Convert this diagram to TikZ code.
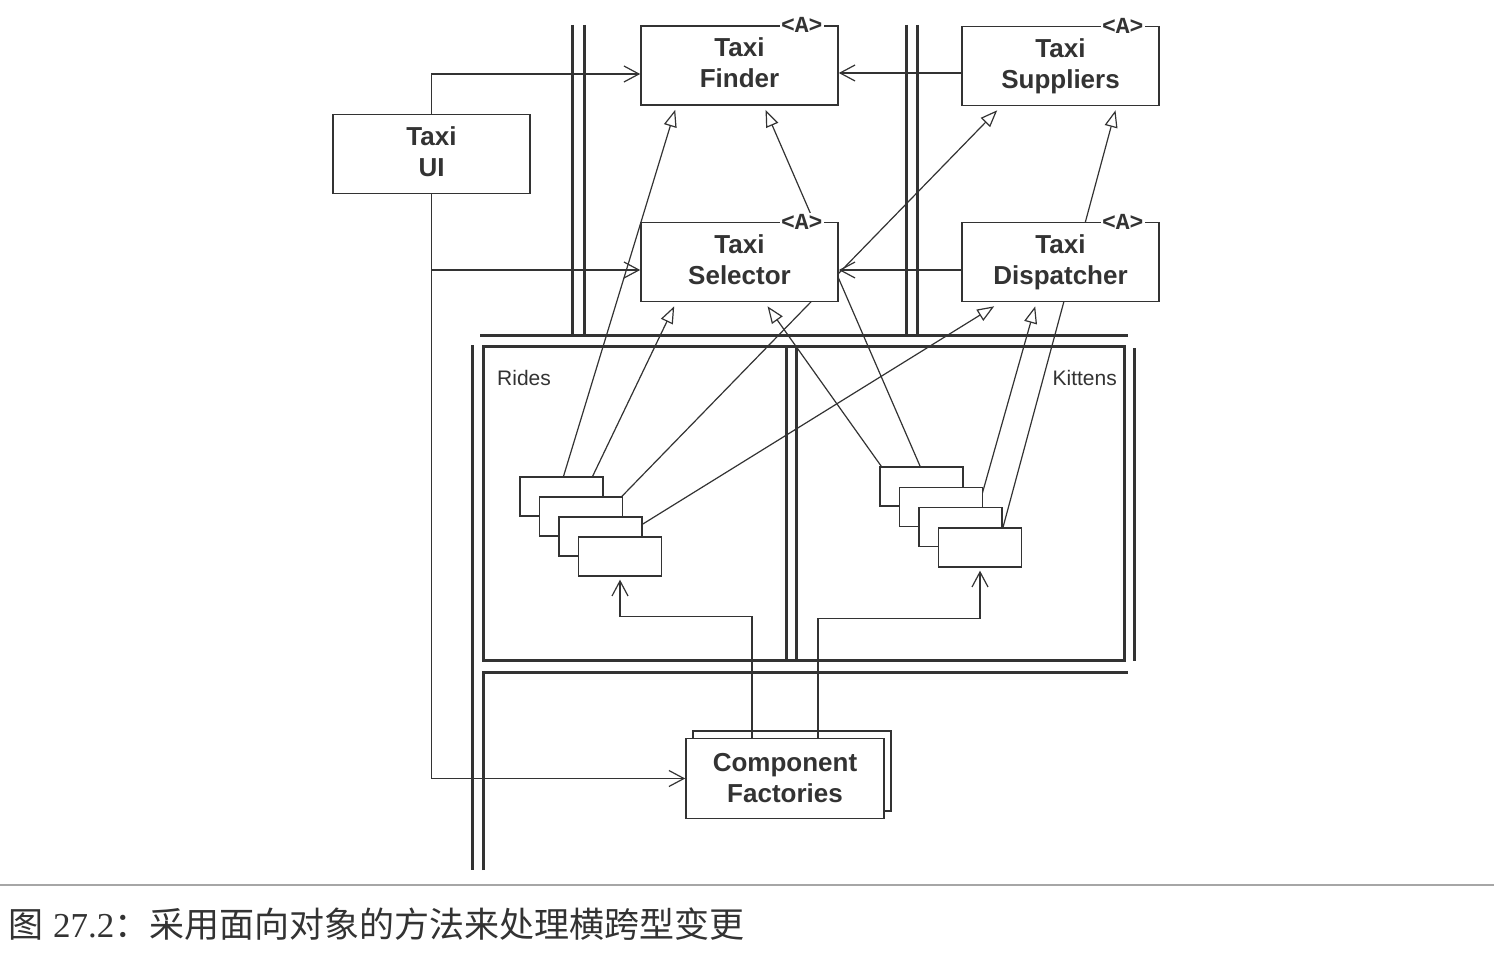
\documentclass[tikz,border=0pt]{standalone}
\usepackage{fontspec}
\setmainfont{Liberation Sans}
\newfontfamily\cjk{Noto Sans CJK SC}
\newfontfamily\capserif{Liberation Serif}
\newfontfamily\amono{Liberation Mono}
\usetikzlibrary{arrows.meta,calc,backgrounds}
\definecolor{ink}{HTML}{333333}
\begin{document}
\begin{tikzpicture}[x=1pt,y=-1pt,
  sep/.style={line width=3pt,draw=ink},
  cls/.style={draw=ink,line width=1.6pt,fill=white,minimum width=197pt,minimum height=79pt,inner sep=0pt,align=center,text=ink,font=\bfseries\fontsize{26}{31}\selectfont},
  comp/.style={draw=ink,line width=1.4pt,fill=white,minimum width=83pt,minimum height=39pt,inner sep=0pt},
  abs/.style={fill=white,inner sep=1pt,text=ink,font=\amono\bfseries\fontsize{23}{23}\selectfont},
  conn/.style={draw=ink,line width=1.2pt},
  assoc/.style={conn,-{Straight Barb[length=15pt,width=16pt]}},
  inh/.style={conn,-{Triangle[open,length=17pt,width=13pt]}},
  pkg/.style={text=ink,inner sep=0pt,font=\fontsize{21}{21}\selectfont,anchor=base west}
]
\useasboundingbox (0,0) rectangle (1506,968);

% classes
\node[cls] (ui) at (431.5,154) {Taxi\\UI\vphantom{p}};
\node[cls] (finder) at (739.5,65.5) {Taxi\\Finder\vphantom{p}};
\node[cls] (suppliers) at (1060.5,66) {Taxi\\Suppliers};
\node[cls] (selector) at (739.5,262) {Taxi\\Selector\vphantom{p}};
\node[cls] (dispatcher) at (1060.5,262) {Taxi\\Dispatcher};
\node[abs] (finderA) at ([xshift=-37pt]finder.north east) {<A>};
\node[abs] (suppliersA) at ([xshift=-37pt]suppliers.north east) {<A>};
\node[abs] (selectorA) at ([xshift=-37pt]selector.north east) {<A>};
\node[abs] (dispatcherA) at ([xshift=-37pt]dispatcher.north east) {<A>};

% component stacks
\node[comp] (r1) at (561.5,496.5) {};
\node[comp] (r2) at (581,516.5) {};
\node[comp] (r3) at (600.5,536.5) {};
\node[comp] (r4) at (620,556.5) {};
\node[comp] (k1) at (921.5,486.5) {};
\node[comp] (k2) at (941,507) {};
\node[comp] (k3) at (960.5,527) {};
\node[comp] (k4) at (980,547.5) {};

% component factories
\node[draw=ink,line width=1.4pt,fill=white,minimum width=198pt,minimum height=80pt] (cfback) at (792,771) {};
\node[cls,minimum width=198pt,minimum height=80pt] (cf) at (785,778.5) {Component\\Factories};

% package labels
\node[pkg] (rides) at (497,385) {Rides};
\node[pkg,anchor=base east] (kittens) at (1117,385) {Kittens};

\begin{pgfonlayer}{background}
\fill[white] (0,0) rectangle (1506,968);
% boundaries
\draw[sep] (572,25) -- (572,335);
\draw[sep] (584,25) -- (584,335);
\draw[sep] (906,25) -- (906,335);
\draw[sep] (917,25) -- (917,335);
\draw[sep] (480,335) -- (1128,335);
\draw[sep] (472,345) -- (472,870);
\draw[sep] (483,660) -- (483,346) -- (1124,346) -- (1124,660) -- cycle;
\draw[sep] (786,346) -- (786,660);
\draw[sep] (796,346) -- (796,660);
\draw[sep] (1134,348) -- (1134,661);
\draw[sep] (483,870) -- (483,672) -- (1128,672);
% inheritance
\draw[inh] ([xshift=2pt]r1.north) -- ([xshift=35pt,yshift=-4pt]finder.south west);
\draw[inh] ([xshift=2pt]r2.north) -- ([xshift=34pt,yshift=-4pt]selector.south west);
\draw[inh] ([xshift=2pt]r3.north) -- ([xshift=36pt,yshift=-4pt]suppliers.south west);
\draw[inh] ([xshift=3pt]r4.north) -- ([xshift=33pt,yshift=-4pt]dispatcher.south west);
\draw[inh] ([xshift=2pt]k1.north west) -- ([xshift=28pt,yshift=-4pt]selector.south);
\draw[inh] ([xshift=-12pt]k2.north) -- ([xshift=26pt,yshift=-4pt]finder.south);
\draw[inh] ([xshift=18pt]k3.north) -- ([xshift=74pt,yshift=-4pt]dispatcher.south west);
\draw[inh] ([xshift=23pt]k4.north) -- ([xshift=55pt,yshift=-4pt]suppliers.south);
% associations
\coordinate (finIn) at ([yshift=-8.5pt]finder.west);
\coordinate (selIn) at ([yshift=-8pt]selector.west);
\coordinate (supOut) at ([yshift=-7pt]suppliers.west);
\coordinate (disOut) at ([yshift=-8pt]dispatcher.west);
\draw[assoc] (ui.north) |- (finIn);
\draw[assoc] (ui.south |- selIn) -- (selIn);
\draw[assoc] (ui.south) |- (cf.west);
\draw[assoc] (supOut) -- (supOut -| finder.east);
\draw[assoc] (disOut) -- (disOut -| selector.east);
\end{pgfonlayer}

% factories to components
\coordinate (cfL) at ([xshift=-33pt]cf.north);
\coordinate (cfR) at ([xshift=33pt]cf.north);
\coordinate (r4in) at ([yshift=-3pt]r4.south);
\coordinate (k4in) at ([yshift=-3pt]k4.south);
\draw[assoc] (cfL) |- ([yshift=-37pt]r4in) -- (r4in);
\draw[assoc] (cfR) |- ([yshift=-48pt]k4in) -- (k4in);

% caption
\draw[draw=gray!70,line width=2pt] (0,885) -- (1494,885);
\node[anchor=base west,inner sep=0pt,text=ink,font=\fontsize{35}{35}\selectfont] (caption) at (8,937) {{\cjk 图}\hspace{10pt}{\capserif 27.2}{\cjk ：采用面向对象的方法来处理横跨型变更}};
\end{tikzpicture}
\end{document}
